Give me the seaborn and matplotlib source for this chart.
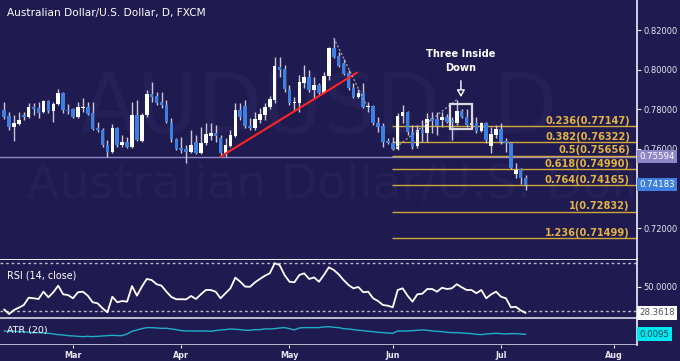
import numpy as np
import pandas as pd
import matplotlib
matplotlib.use("Agg")
import matplotlib.pyplot as plt
import matplotlib.transforms as mtransforms
from matplotlib.patches import Rectangle
import seaborn as sns

sns.set_theme(style="dark")
plt.rcParams['font.family'] = ['DejaVu Sans']

# ---------------- data ----------------
start_date = "2015-02-10"
end_calendar = "2015-08-31"
title = "Australian Dollar/U.S. Dollar, D, FXCM"
month_labels = ["Mar", "Apr", "May", "Jun", "Jul", "Aug"]

opens = [0.7796, 0.7766, 0.7710, 0.7725, 0.7771, 0.7761, 0.7811, 0.7806, 0.7786, 0.7842,
         0.7791, 0.7826, 0.7882, 0.7796, 0.7801, 0.7761, 0.7806, 0.7811, 0.7781, 0.7705,
         0.7695, 0.7619, 0.7584, 0.7705, 0.7619, 0.7634, 0.7609, 0.7771, 0.7640, 0.7771,
         0.7877, 0.7867, 0.7836, 0.7821, 0.7730, 0.7650, 0.7604, 0.7599, 0.7584, 0.7634,
         0.7579, 0.7629, 0.7665, 0.7680, 0.7655, 0.7579, 0.7614, 0.7665, 0.7796, 0.7816,
         0.7715, 0.7705, 0.7746, 0.7771, 0.7811, 0.7847, 0.8013, 0.8003, 0.7902, 0.7831,
         0.7831, 0.7932, 0.7963, 0.7897, 0.7922, 0.7882, 0.7968, 0.8109, 0.8069, 0.8033,
         0.7983, 0.7907, 0.7862, 0.7882, 0.7811, 0.7816, 0.7730, 0.7715, 0.7640, 0.7629,
         0.7599, 0.7766, 0.7786, 0.7685, 0.7614, 0.7695, 0.7680, 0.7756, 0.7751, 0.7746,
         0.7761, 0.7746, 0.7730, 0.7791, 0.7761, 0.7720, 0.7730, 0.7690, 0.7730, 0.7614,
         0.7670, 0.7700, 0.7640, 0.7629, 0.7473, 0.7498, 0.7453]
highs = [0.7836, 0.7786, 0.7771, 0.7786, 0.7786, 0.7831, 0.7831, 0.7836, 0.7847, 0.7847,
         0.7836, 0.7902, 0.7887, 0.7826, 0.7806, 0.7836, 0.7857, 0.7836, 0.7836, 0.7735,
         0.7705, 0.7645, 0.7725, 0.7710, 0.7670, 0.7660, 0.7836, 0.7847, 0.7781, 0.7897,
         0.7937, 0.7887, 0.7887, 0.7847, 0.7756, 0.7655, 0.7660, 0.7619, 0.7695, 0.7670,
         0.7710, 0.7730, 0.7730, 0.7720, 0.7670, 0.7655, 0.7695, 0.7831, 0.7831, 0.7847,
         0.7756, 0.7786, 0.7806, 0.7831, 0.7867, 0.8064, 0.8064, 0.8023, 0.7922, 0.7862,
         0.7973, 0.8023, 0.7998, 0.7963, 0.7932, 0.7988, 0.8114, 0.8160, 0.8089, 0.8054,
         0.7998, 0.7932, 0.7902, 0.7932, 0.7836, 0.7821, 0.7761, 0.7730, 0.7655, 0.7660,
         0.7781, 0.7821, 0.7791, 0.7720, 0.7720, 0.7746, 0.7781, 0.7786, 0.7786, 0.7786,
         0.7776, 0.7761, 0.7847, 0.7801, 0.7801, 0.7761, 0.7761, 0.7735, 0.7735, 0.7710,
         0.7720, 0.7730, 0.7655, 0.7634, 0.7528, 0.7503, 0.7468]
lows = [0.7751, 0.7695, 0.7640, 0.7720, 0.7746, 0.7756, 0.7771, 0.7756, 0.7781, 0.7781,
        0.7735, 0.7821, 0.7781, 0.7776, 0.7756, 0.7756, 0.7786, 0.7771, 0.7695, 0.7685,
        0.7609, 0.7559, 0.7579, 0.7609, 0.7609, 0.7604, 0.7604, 0.7640, 0.7634, 0.7761,
        0.7836, 0.7821, 0.7806, 0.7730, 0.7634, 0.7594, 0.7579, 0.7528, 0.7579, 0.7574,
        0.7574, 0.7619, 0.7645, 0.7634, 0.7559, 0.7559, 0.7609, 0.7660, 0.7746, 0.7705,
        0.7695, 0.7695, 0.7730, 0.7746, 0.7801, 0.7831, 0.7963, 0.7887, 0.7821, 0.7796,
        0.7786, 0.7907, 0.7887, 0.7857, 0.7872, 0.7882, 0.7948, 0.8059, 0.8013, 0.7973,
        0.7897, 0.7857, 0.7857, 0.7806, 0.7786, 0.7720, 0.7685, 0.7609, 0.7624, 0.7594,
        0.7594, 0.7730, 0.7670, 0.7599, 0.7604, 0.7634, 0.7634, 0.7680, 0.7670, 0.7710,
        0.7730, 0.7645, 0.7720, 0.7756, 0.7710, 0.7705, 0.7680, 0.7685, 0.7629, 0.7579,
        0.7655, 0.7624, 0.7584, 0.7498, 0.7453, 0.7422, 0.7392]
closes = [0.7761, 0.7710, 0.7730, 0.7746, 0.7761, 0.7811, 0.7801, 0.7781, 0.7842, 0.7791,
          0.7826, 0.7882, 0.7796, 0.7791, 0.7761, 0.7811, 0.7811, 0.7776, 0.7700, 0.7695,
          0.7619, 0.7584, 0.7705, 0.7619, 0.7634, 0.7609, 0.7771, 0.7645, 0.7771, 0.7877,
          0.7862, 0.7831, 0.7821, 0.7735, 0.7650, 0.7599, 0.7594, 0.7584, 0.7619, 0.7579,
          0.7629, 0.7675, 0.7680, 0.7665, 0.7579, 0.7619, 0.7670, 0.7796, 0.7761, 0.7715,
          0.7705, 0.7751, 0.7776, 0.7811, 0.7852, 0.8018, 0.7998, 0.7902, 0.7831, 0.7836,
          0.7937, 0.7963, 0.7897, 0.7922, 0.7882, 0.7968, 0.8109, 0.8064, 0.8018, 0.7978,
          0.7907, 0.7862, 0.7882, 0.7811, 0.7816, 0.7730, 0.7710, 0.7634, 0.7629, 0.7599,
          0.7766, 0.7786, 0.7685, 0.7609, 0.7695, 0.7680, 0.7751, 0.7741, 0.7715, 0.7761,
          0.7735, 0.7735, 0.7791, 0.7761, 0.7720, 0.7730, 0.7690, 0.7730, 0.7645, 0.7675,
          0.7700, 0.7634, 0.7629, 0.7503, 0.7493, 0.7453, 0.74183]
rsi = [31.3, 27.5, 30.8, 32.8, 35.0, 41.1, 40.6, 40.0, 46.1, 41.4,
       45.6, 51.1, 43.9, 43.3, 40.6, 45.6, 46.1, 42.8, 37.3, 36.4,
       32.3, 28.9, 41.9, 37.3, 38.3, 37.8, 50.8, 42.8, 50.3, 56.7,
       55.8, 52.3, 51.1, 46.1, 41.7, 39.8, 39.8, 39.7, 42.5, 40.0,
       43.9, 47.5, 47.5, 46.1, 40.6, 44.8, 48.9, 57.8, 54.4, 50.3,
       50.2, 53.9, 56.7, 59.4, 61.4, 69.8, 68.3, 60.0, 54.4, 53.9,
       60.0, 61.4, 56.7, 58.0, 54.4, 60.0, 66.4, 64.2, 60.6, 55.8,
       51.7, 48.9, 50.0, 45.6, 46.1, 40.6, 38.3, 35.0, 34.4, 33.1,
       47.5, 48.9, 42.8, 37.8, 43.9, 44.4, 48.3, 48.3, 46.1, 49.4,
       48.3, 48.9, 52.3, 49.8, 47.5, 47.5, 44.8, 47.5, 40.6, 43.9,
       46.1, 41.9, 40.6, 33.1, 33.5, 30.5, 28.3618]
atr = [0.0105, 0.0104, 0.0104, 0.0103, 0.0103, 0.0101, 0.0100, 0.0100, 0.0099, 0.0098,
       0.0096, 0.0094, 0.0093, 0.0091, 0.0090, 0.0089, 0.0088, 0.0089, 0.0088, 0.0089,
       0.0090, 0.0091, 0.0092, 0.0091, 0.0091, 0.0096, 0.0104, 0.0108, 0.0112, 0.0115,
       0.0115, 0.0114, 0.0113, 0.0113, 0.0111, 0.0109, 0.0106, 0.0105, 0.0105, 0.0105,
       0.0105, 0.0105, 0.0104, 0.0106, 0.0108, 0.0109, 0.0111, 0.0110, 0.0109, 0.0107,
       0.0107, 0.0109, 0.0109, 0.0111, 0.0111, 0.0112, 0.0114, 0.0115, 0.0112, 0.0108,
       0.0114, 0.0115, 0.0115, 0.0115, 0.0115, 0.0117, 0.0118, 0.0116, 0.0115, 0.0112,
       0.0111, 0.0109, 0.0107, 0.0106, 0.0104, 0.0103, 0.0101, 0.0100, 0.0099, 0.0098,
       0.0105, 0.0105, 0.0105, 0.0106, 0.0107, 0.0108, 0.0107, 0.0105, 0.0104, 0.0103,
       0.0101, 0.0100, 0.0100, 0.0099, 0.0098, 0.0097, 0.0095, 0.0094, 0.0096, 0.0097,
       0.0098, 0.0097, 0.0096, 0.0097, 0.0097, 0.0096, 0.0095]

fib_ratios = [0.236, 0.382, 0.5, 0.618, 0.764, 1, 1.236]
fib_levels = [0.77147, 0.76322, 0.75656, 0.74990, 0.74165, 0.72832, 0.71499]
fib_start_idx = 78.8
support_level = 0.75594
price_ticks = [0.72, 0.76, 0.78, 0.80, 0.82]
rsi_bands = [30, 70]
rsi_tick = 50
# annotation anchors (candle index, price)
trend_x = [44.0, 71.7]
trend_y = [0.75601, 0.79843]
swing1_x = [67, 73.7]
swing1_y = [0.8160, 0.7817]
swing2_x = [79, 92]
swing2_y = [0.7594, 0.7848]
pattern_x = [90.6, 95.1]
pattern_y = [0.7700, 0.7826]
pattern_label = "Three Inside\nDown"

# ---------------- frame ----------------
n = len(closes)
df = pd.DataFrame({"idx": np.arange(n),
                   "date": pd.bdate_range(start_date, periods=n),
                   "open": opens, "high": highs, "low": lows,
                   "close": closes, "rsi": rsi, "atr": atr})
cal = pd.bdate_range(start_date, end_calendar)
tick_pos = [int(np.argmax(cal.month == m)) for m in range(3, 9)]

BG = "#1f1a4f"
BLUE = "#3f7fe0"
WICK = "#c8c8d8"
GOLD = "#d4a838"
TXT = "#e8e8f2"
WATER = "#262058"

W, H = 680, 361
fig = plt.figure(figsize=(W / 100, H / 100), dpi=100, facecolor=BG)
axw = 637 / W
ax = fig.add_axes([0, 1 - 259 / H, axw, 259 / H])
ax_r = fig.add_axes([0, 1 - 317 / H, axw, 58 / H], sharex=ax)
ax_a = fig.add_axes([0, 1 - 345 / H, axw, 28 / H], sharex=ax)
for a in (ax, ax_r, ax_a):
    a.set_facecolor(BG)
    a.grid(False)
    for s in a.spines.values():
        s.set_visible(False)
    a.spines["right"].set_visible(True)
    a.spines["right"].set_color("#f0f0f8")
    a.spines["right"].set_linewidth(1.2)
    a.yaxis.tick_right()
    a.tick_params(axis="y", colors=TXT, labelcolor=TXT, labelsize=6, length=3,
                  width=0.8, pad=1.5, right=True, left=False)
    a.tick_params(axis="x", bottom=False, labelbottom=False)
    a.set_xlabel("")
    a.set_ylabel("")

x_lo = -4.1 / 4.92
x_hi = (637 - 4.1) / 4.92
ax.set_xlim(x_lo, x_hi)

# ---------------- main price panel ----------------
ax.set_ylim(0.835152 - 259 / 1980, 0.835152)
ax.text(80 / 637, 1 - 133 / 259, "AUDUSD, D", transform=ax.transAxes, fontsize=60,
        color=WATER, va="baseline", ha="left", zorder=0, clip_on=True)
ax.text(27 / 637, 1 - 198 / 259, "Australian Dollar/U.S. Dollar", transform=ax.transAxes,
        fontsize=34, color=WATER, va="baseline", ha="left", zorder=0, clip_on=True)

ax.axhline(support_level, color="#9088cc", lw=1.0, zorder=1)
for r, lv in zip(fib_ratios, fib_levels):
    ax.hlines(lv, fib_start_idx, x_hi, color=GOLD, lw=1.0, zorder=1)
    ax.annotate(f"{r:g}({lv:.5f})", xy=(127.2, lv), xytext=(0, 1.6),
                textcoords="offset points", ha="right", va="baseline",
                fontsize=7.1, fontweight="bold", color="#e2b443", zorder=5)

up = df["close"] >= df["open"]
body_lo = np.minimum(df["open"], df["close"])
body_h = np.maximum(np.abs(df["close"] - df["open"]), 0.0004)
ax.vlines(df["idx"], df["low"], df["high"], color=WICK, lw=1.0, zorder=2)
ax.bar(df["idx"][up], body_h[up], bottom=body_lo[up], width=0.72, color="white",
       linewidth=0, zorder=3)
ax.bar(df["idx"][~up], body_h[~up], bottom=body_lo[~up], width=0.72, color=BLUE,
       linewidth=0, zorder=3)

ax.plot(trend_x, trend_y, color="#ff2424", lw=1.5, zorder=4)
ax.plot(swing1_x, swing1_y, color="#9a98b0", lw=1.0, ls=(0, (1.5, 1.5)), zorder=4)
ax.plot(swing2_x, swing2_y, color="#9a98b0", lw=1.0, ls=(0, (1.5, 1.5)), zorder=4)
ax.add_patch(Rectangle((pattern_x[0], pattern_y[0]), pattern_x[1] - pattern_x[0],
                       pattern_y[1] - pattern_y[0], fill=False, ec="#d8d8e0", lw=1.6,
                       zorder=5))
cx = (pattern_x[0] + pattern_x[1]) / 2
ax.annotate("", xy=(cx, 0.7847), xytext=(cx, 0.7958),
            arrowprops=dict(arrowstyle="-|>,head_length=0.35,head_width=0.2",
                            color="white", fc=BG, lw=1.0), zorder=6)
ax.text(cx, 0.8043, pattern_label, ha="center", va="center", fontsize=7.1,
        fontweight="bold", color="white", linespacing=1.45, zorder=6)

ax.set_yticks(price_ticks)
ax.set_yticklabels([f"{v:.5f}" for v in price_ticks])
ytr = mtransforms.blended_transform_factory(ax.transAxes, ax.transData)
ax.text(1.004, support_level, f"{support_level:.5f}", transform=ytr, fontsize=6.2,
        color="white", va="center", ha="left", clip_on=False, zorder=10,
        bbox=dict(boxstyle="square,pad=0.25", fc="#8f86c8", ec="none"))
ax.text(1.004, closes[-1], f"{closes[-1]:.5f}", transform=ytr, fontsize=6.2,
        color="white", va="center", ha="left", clip_on=False, zorder=10,
        bbox=dict(boxstyle="square,pad=0.25", fc=BLUE, ec="none"))
fig.text(7 / W, 1 - 13 / H, title, fontsize=7.6, color="white", va="center", ha="left")

# ---------------- RSI panel ----------------
sns.lineplot(data=df, x="idx", y="rsi", ax=ax_r, color="white", lw=1.3, legend=False)
ax_r.set_ylim(25, 50 + 28 / 1.2)
for b in rsi_bands:
    ax_r.axhline(b, color="#b8b8cc", lw=1.0, ls=(0, (2, 2)), zorder=1)
ax_r.axhline(50 + 28 / 1.2, color="#f0f0f8", lw=1.4, zorder=1)
ax_r.set_yticks([rsi_tick])
ax_r.set_yticklabels([f"{rsi_tick:.4f}"])
ax_r.text(7 / 637, 1 - 16 / 58, "RSI (14, close)", transform=ax_r.transAxes,
          fontsize=6.9, color="white", va="center", ha="left")
ytr_r = mtransforms.blended_transform_factory(ax_r.transAxes, ax_r.transData)
ax_r.text(1.004, rsi[-1], f"{rsi[-1]:.4f}", transform=ytr_r, fontsize=6.2,
          color="#505060", va="center", ha="left", clip_on=False, zorder=10,
          bbox=dict(boxstyle="square,pad=0.25", fc="white", ec="none"))
ax_r.set_xlabel("")
ax_r.set_ylabel("")

# ---------------- ATR panel ----------------
sns.lineplot(data=df, x="idx", y="atr", ax=ax_a, color="#1fb0c8", lw=1.0, legend=False)
ax_a.set_ylim(0.00629, 0.01469)
ax_a.axhline(0.01469, color="#b8b8cc", lw=2.2, zorder=1)
ax_a.axhline(0.00629, color="#b8b8cc", lw=1.4, zorder=1)
ax_a.set_yticks([])
ax_a.text(7 / 637, 1 - 14 / 28, "ATR (20)", transform=ax_a.transAxes,
          fontsize=6.8, color="white", va="center", ha="left")
ytr_a = mtransforms.blended_transform_factory(ax_a.transAxes, ax_a.transData)
ax_a.text(1.004, atr[-1], f"{atr[-1]:.4f}", transform=ytr_a, fontsize=6.2,
          color="#204050", va="center", ha="left", clip_on=False, zorder=10,
          bbox=dict(boxstyle="square,pad=0.3", fc="#00e8f0", ec="none"))
ax_a.set_xticks(tick_pos)
ax_a.set_xticklabels(month_labels)
ax_a.tick_params(axis="x", bottom=True, labelbottom=True, colors=TXT, labelcolor=TXT,
                 labelsize=5.8, length=2.5, width=0.8, pad=1.5)
for lbl in ax_a.get_xticklabels():
    lbl.set_fontweight("bold")
ax_a.set_xlabel("")
ax_a.set_ylabel("")
ax.set_xlim(x_lo, x_hi)

fig.savefig("out.png", dpi=100, facecolor=BG)
